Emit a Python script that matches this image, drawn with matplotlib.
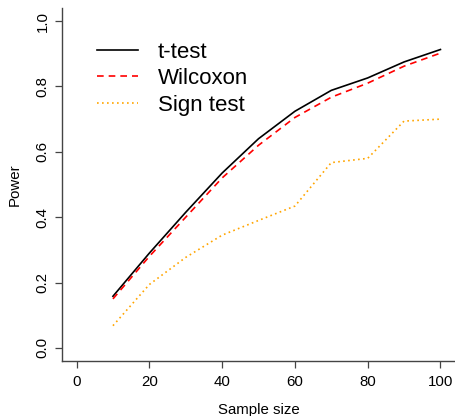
import matplotlib
matplotlib.use("Agg")
import matplotlib.pyplot as plt

plt.rcParams['font.family'] = ['Liberation Sans', 'DejaVu Sans']

sample_size = [10, 20, 30, 40, 50, 60, 70, 80, 90, 100]
power_t = [0.158, 0.29, 0.415, 0.535, 0.64, 0.724, 0.788, 0.826, 0.875, 0.913]
power_wilcoxon = [0.15, 0.28, 0.40, 0.52, 0.62, 0.705, 0.767, 0.81, 0.862, 0.902]
power_sign = [0.068, 0.194, 0.277, 0.345, 0.39, 0.434, 0.567, 0.58, 0.694, 0.70]

fig = plt.figure(figsize=(4.55, 4.16), dpi=100)
ax = fig.add_axes([62/455, 1 - 361/416, 1 - 62/455, (361 - 8)/416])

ax.plot(sample_size, power_t, color='black', lw=1.2, label='t-test')
ax.plot(sample_size, power_wilcoxon, color='red', lw=1.2, dashes=(4, 3), label='Wilcoxon')
ax.plot(sample_size, power_sign, color='orange', lw=1.2, dashes=(1, 2), label='Sign test')

ax.set_xlim(-4, 104)
ax.set_ylim(-0.04, 1.04)
ax.set_xticks([0, 20, 40, 60, 80, 100])
ax.set_yticks([0.0, 0.2, 0.4, 0.6, 0.8, 1.0])
ax.set_yticklabels(['0.0', '0.2', '0.4', '0.6', '0.8', '1.0'], rotation=90, va='center')

for side in ['top', 'right']:
    ax.spines[side].set_visible(False)
for side in ['left', 'bottom']:
    ax.spines[side].set_color('#444444')
    ax.spines[side].set_linewidth(1.0)
ax.tick_params(direction='out', length=5, width=0.9, color='#444444', labelsize=10.8, pad=5)
ax.tick_params(axis='y', pad=4)

ax.set_xlabel('Sample size', fontsize=10.8, labelpad=10)
ax.set_ylabel('Power', fontsize=10.8, labelpad=10)

ax.legend(loc='upper left', bbox_to_anchor=(0.089, 0.905), frameon=False, fontsize=16,
          handlelength=1.85, handletextpad=0.9, labelspacing=0.25, borderaxespad=0,
          borderpad=0)

fig.savefig('out.png', dpi=100)
